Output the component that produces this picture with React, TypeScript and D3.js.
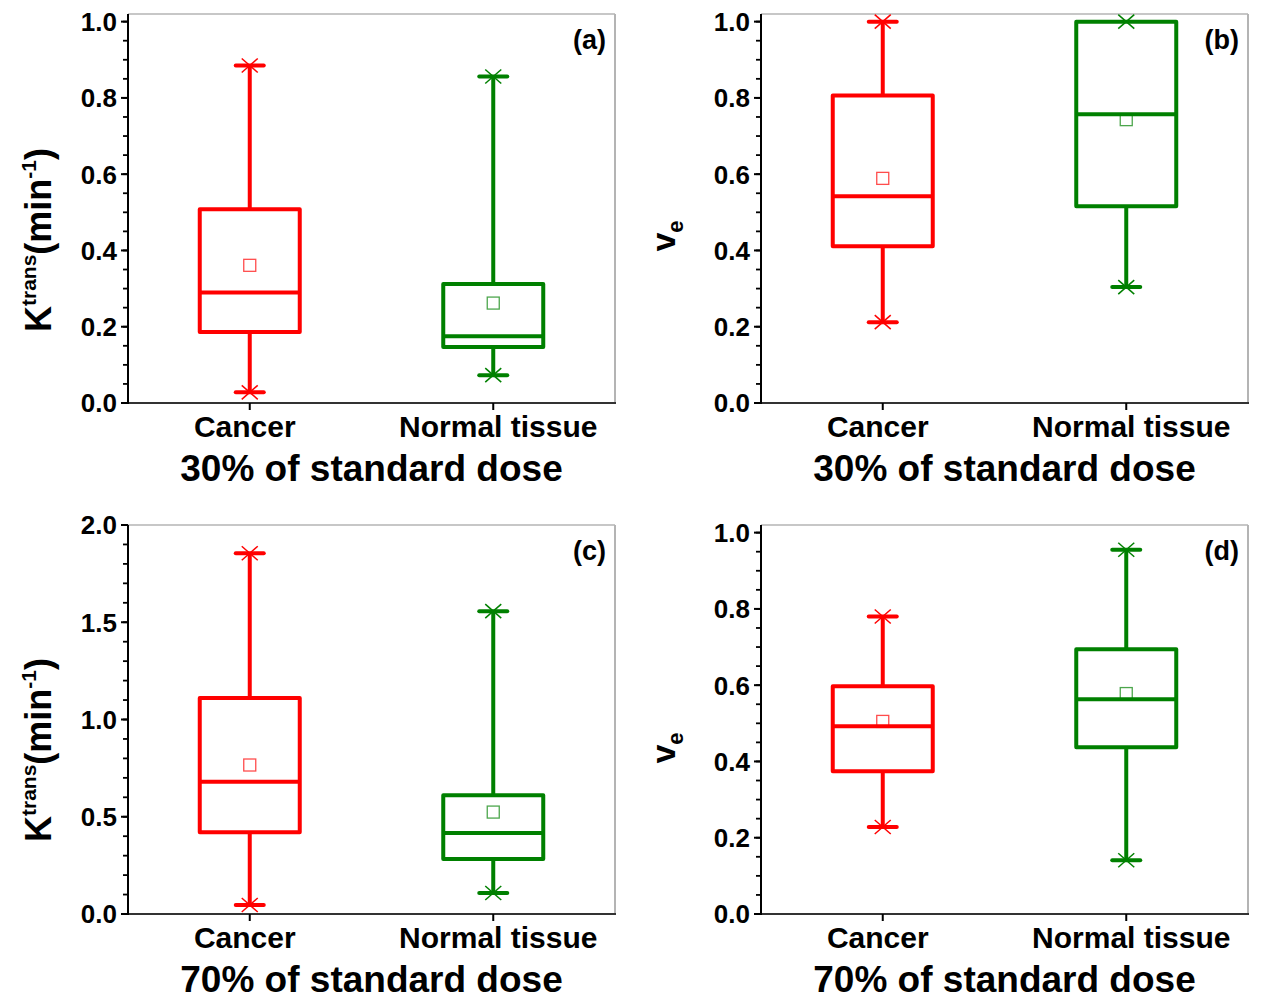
import React from "react";
import * as d3 from "d3";

const categories = ["Cancer", "Normal tissue"];
const colors = ["#ff0000", "#008000"];
const labelShift = [-5, 5];

// Panel (a): Ktrans, 30% dose
const aMin = [0.028, 0.073];
const aQ1 = [0.186, 0.147];
const aMed = [0.29, 0.175];
const aMean = [0.361, 0.262];
const aQ3 = [0.508, 0.312];
const aMax = [0.885, 0.856];

// Panel (b): ve, 30% dose
const bMin = [0.212, 0.304];
const bQ1 = [0.411, 0.516];
const bMed = [0.542, 0.757];
const bMean = [0.589, 0.743];
const bQ3 = [0.806, 1.0];
const bMax = [1.0, 1.0];

// Panel (c): Ktrans, 70% dose
const cMin = [0.046, 0.108];
const cQ1 = [0.42, 0.283];
const cMed = [0.68, 0.416];
const cMean = [0.766, 0.524];
const cQ3 = [1.11, 0.611];
const cMax = [1.855, 1.557];

// Panel (d): ve, 70% dose
const dMin = [0.228, 0.141];
const dQ1 = [0.374, 0.437];
const dMed = [0.492, 0.563];
const dMean = [0.505, 0.578];
const dQ3 = [0.597, 0.694];
const dMax = [0.78, 0.955];

const ticks1 = [0, 0.2, 0.4, 0.6, 0.8, 1.0];
const ticks2 = [0, 0.5, 1.0, 1.5, 2.0];

const FONT = "'Liberation Sans', Arial, Helvetica, sans-serif";

type PanelProps = {
  left: number;
  right: number;
  top: number;
  bottom: number;
  yMax: number;
  ticks: number[];
  minorStep: number;
  minV: number[];
  q1: number[];
  med: number[];
  mean: number[];
  q3: number[];
  maxV: number[];
  letter: string;
  title: string;
  ylabel: "k" | "v";
  ylabelX: number;
  ylabelY: number;
};

function Panel(p: PanelProps) {
  const y = d3.scaleLinear().domain([0, p.yMax]).range([p.bottom, p.top]);
  const x = d3.scaleBand<string>().domain(categories).range([p.left, p.right]).paddingInner(0).paddingOuter(0);
  const boxW = 100;
  const capW = 28;
  const lastTick = p.ticks[p.ticks.length - 1];
  const minor = d3.range(0, Math.round(lastTick / p.minorStep) + 1).map((i) => +(i * p.minorStep).toFixed(4));
  return (
    <g>
      {/* frame */}
      <line x1={p.left} x2={p.right} y1={p.top} y2={p.top} stroke="#b4b4b4" strokeWidth={1.5} />
      <line x1={p.right} x2={p.right} y1={p.top} y2={p.bottom} stroke="#b4b4b4" strokeWidth={2} />
      <line x1={p.left} x2={p.right + 1} y1={p.bottom} y2={p.bottom} stroke="#333" strokeWidth={2} />
      <line x1={p.left} x2={p.left} y1={p.top} y2={p.bottom + 1} stroke="#000" strokeWidth={2} />
      {/* y ticks */}
      {minor.map((v) => (
        <line key={"m" + v} x1={p.left - 5} x2={p.left} y1={y(v)} y2={y(v)} stroke="#000" strokeWidth={1.8} />
      ))}
      {p.ticks.map((v) => (
        <g key={"t" + v}>
          <line x1={p.left - 7} x2={p.left} y1={y(v)} y2={y(v)} stroke="#000" strokeWidth={2} />
          <text x={p.left - 11} y={y(v)} dy="0.36em" textAnchor="end" fontFamily={FONT} fontWeight="bold" fontSize={26} fill="#000">
            {v.toFixed(1)}
          </text>
        </g>
      ))}
      {/* x ticks and labels */}
      {categories.map((c, i) => {
        const cx = (x(c) as number) + x.bandwidth() / 2;
        return (
          <g key={"x" + c}>
            <line x1={cx} x2={cx} y1={p.bottom} y2={p.bottom + 7} stroke="#000" strokeWidth={2} />
            <text x={cx + labelShift[i]} y={p.bottom + 34} textAnchor="middle" fontFamily={FONT} fontWeight="bold" fontSize={30} fill="#000">
              {c}
            </text>
          </g>
        );
      })}
      <text x={(p.left + p.right) / 2} y={p.bottom + 78} textAnchor="middle" fontFamily={FONT} fontWeight="bold" fontSize={37} fill="#000">
        {p.title}
      </text>
      <text x={p.right - 9} y={p.top + 35} textAnchor="end" fontFamily={FONT} fontWeight="bold" fontSize={27} fill="#000">
        {p.letter}
      </text>
      {/* y label */}
      <g transform={`translate(${p.ylabelX},${p.ylabelY}) rotate(-90)`}>
        {p.ylabel === "k" ? (
          <text textAnchor="middle" fontFamily={FONT} fontWeight="bold" fontSize={36} fill="#000">
            K
            <tspan fontSize={21} dy={-15}>trans</tspan>
            <tspan fontSize={36} dy={15}>(min</tspan>
            <tspan fontSize={21} dy={-15}>-1</tspan>
            <tspan fontSize={36} dy={15}>)</tspan>
          </text>
        ) : (
          <text textAnchor="middle" fontFamily={FONT} fontWeight="bold" fontSize={34} fill="#000">
            v
            <tspan fontSize={22} dy={8}>e</tspan>
          </text>
        )}
      </g>
      {/* boxes */}
      {categories.map((c, i) => {
        const cx = (x(c) as number) + x.bandwidth() / 2;
        const col = colors[i];
        const markers = [p.minV[i], p.maxV[i]];
        return (
          <g key={"b" + c}>
            <line x1={cx} x2={cx} y1={y(p.q3[i])} y2={y(p.maxV[i])} stroke={col} strokeWidth={4} />
            <line x1={cx} x2={cx} y1={y(p.q1[i])} y2={y(p.minV[i])} stroke={col} strokeWidth={4} />
            <rect x={cx - boxW / 2} y={y(p.q3[i])} width={boxW} height={y(p.q1[i]) - y(p.q3[i])} fill="none" stroke={col} strokeWidth={4} strokeLinejoin="round" />
            <line x1={cx - boxW / 2} x2={cx + boxW / 2} y1={y(p.med[i])} y2={y(p.med[i])} stroke={col} strokeWidth={4} />
            {markers.map((v, k) => (
              <g key={k}>
                {p.q3[i] !== v && (
                  <line x1={cx - capW / 2} x2={cx + capW / 2} y1={y(v)} y2={y(v)} stroke={col} strokeWidth={4} strokeLinecap="round" />
                )}
                <line x1={cx - 8} x2={cx + 8} y1={y(v) - 7} y2={y(v) + 7} stroke={col} strokeWidth={1.5} />
                <line x1={cx - 8} x2={cx + 8} y1={y(v) + 7} y2={y(v) - 7} stroke={col} strokeWidth={1.5} />
              </g>
            ))}
            <rect x={cx - 6} y={y(p.mean[i]) - 6} width={12} height={12} fill="none" stroke={col} strokeOpacity={0.7} strokeWidth={1.3} />
          </g>
        );
      })}
    </g>
  );
}

export default function App() {
  return (
    <svg width={1262} height={1005} style={{ position: "absolute", left: 0, top: 0, background: "#fff" }}>
      <rect width={1262} height={1005} fill="#fff" />
      <Panel left={128} right={615} top={14} bottom={403} yMax={1.02} ticks={ticks1} minorStep={0.05}
        minV={aMin} q1={aQ1} med={aMed} mean={aMean} q3={aQ3} maxV={aMax}
        letter="(a)" title="30% of standard dose" ylabel="k" ylabelX={51} ylabelY={240} />
      <Panel left={761} right={1248} top={14} bottom={403} yMax={1.02} ticks={ticks1} minorStep={0.05}
        minV={bMin} q1={bQ1} med={bMed} mean={bMean} q3={bQ3} maxV={bMax}
        letter="(b)" title="30% of standard dose" ylabel="v" ylabelX={675} ylabelY={236} />
      <Panel left={128} right={615} top={525} bottom={914} yMax={2.0} ticks={ticks2} minorStep={0.1}
        minV={cMin} q1={cQ1} med={cMed} mean={cMean} q3={cQ3} maxV={cMax}
        letter="(c)" title="70% of standard dose" ylabel="k" ylabelX={51} ylabelY={750} />
      <Panel left={761} right={1248} top={525} bottom={914} yMax={1.02} ticks={ticks1} minorStep={0.05}
        minV={dMin} q1={dQ1} med={dMed} mean={dMean} q3={dQ3} maxV={dMax}
        letter="(d)" title="70% of standard dose" ylabel="v" ylabelX={675} ylabelY={748} />
    </svg>
  );
}
